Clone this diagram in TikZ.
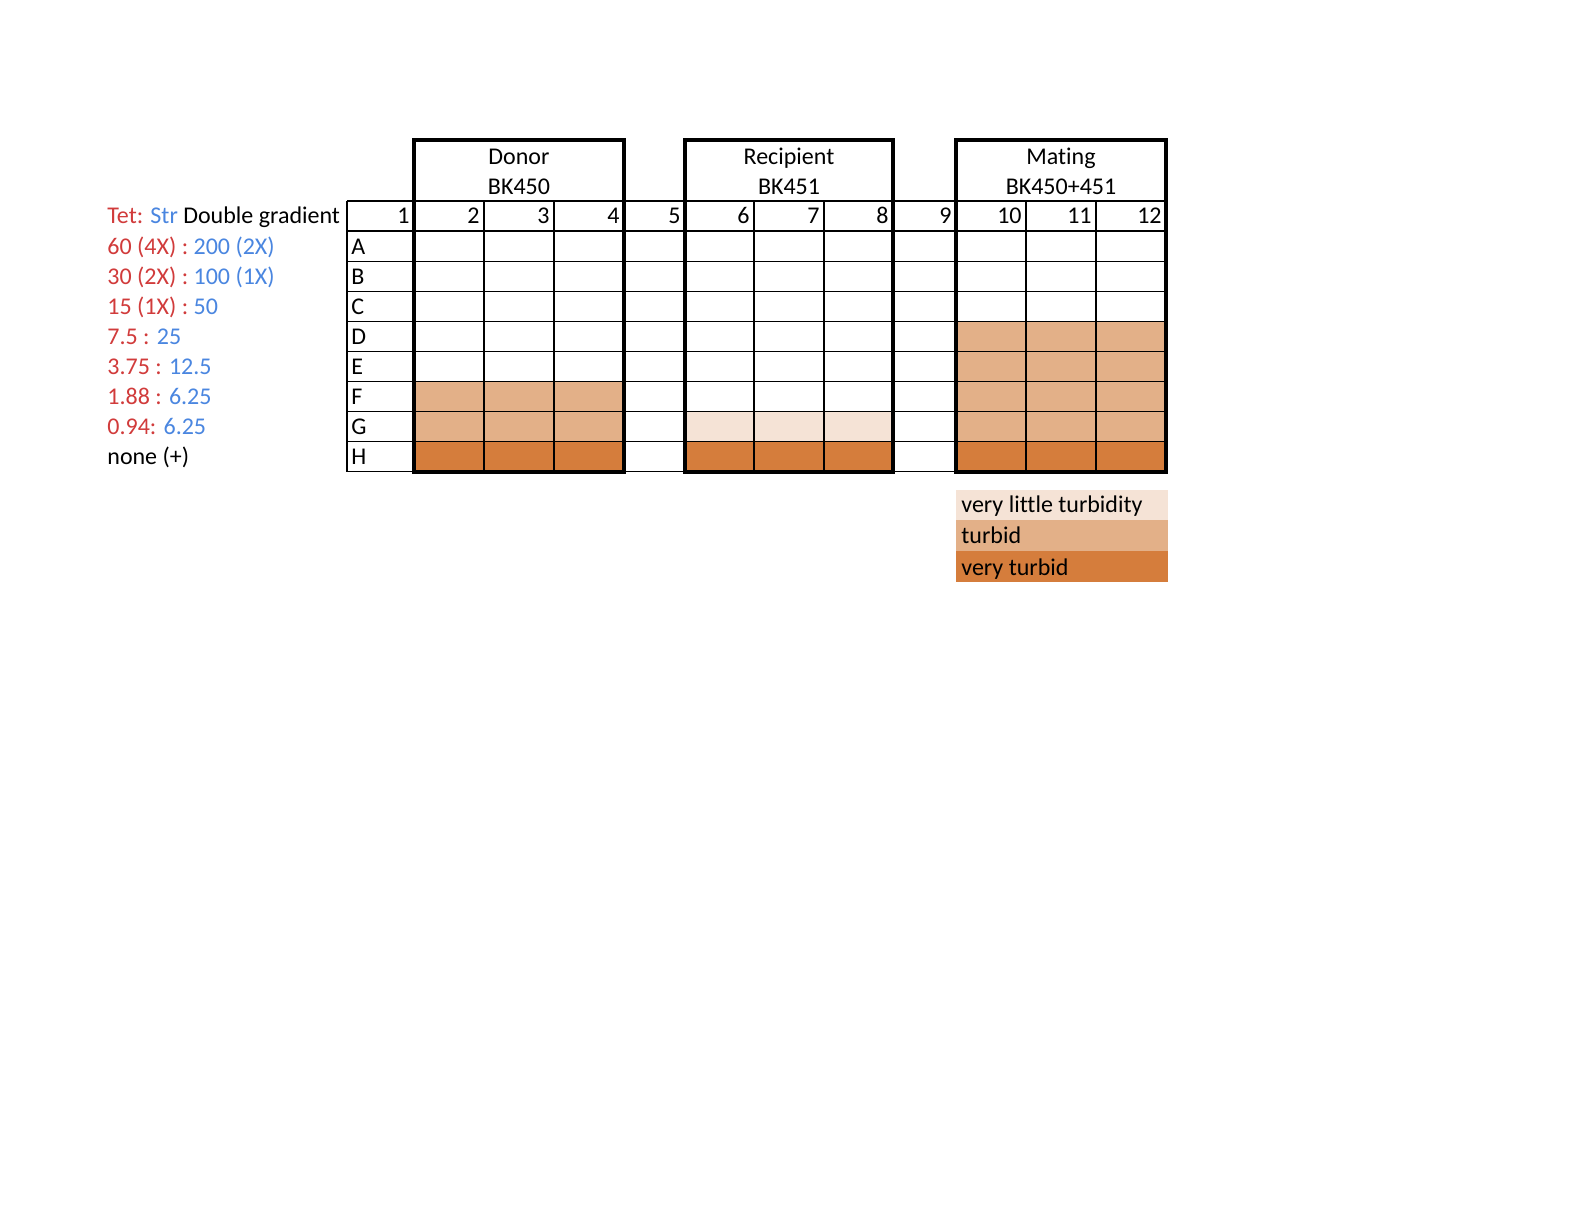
\documentclass[tikz,border=0pt]{standalone}
\usepackage{fontspec}
\setmainfont[Ligatures=NoCommon]{Carlito}
\definecolor{tred}{HTML}{D13B3B}
\definecolor{tblue}{HTML}{4A86E0}
\definecolor{lightturb}{HTML}{F5E3D6}
\definecolor{turb}{HTML}{E3B088}
\definecolor{vturb}{HTML}{D57D3C}
\begin{document}
\begin{tikzpicture}[x=0.5pt,y=-0.5pt,
  txt/.style={inner sep=0pt, font=\fontsize{12}{14}\selectfont},
  gridline/.style={line width=0.6pt},
  boxline/.style={line width=2.2pt}]
\useasboundingbox[fill=white] (0,0) rectangle (1584,1224);
% fills
\fill[turb]  (414,381.6) rectangle (624,441.8);
\fill[vturb] (414,441.8) rectangle (624,471.9);
\fill[lightturb] (685,411.7) rectangle (893,441.8);
\fill[vturb] (685,441.8) rectangle (893,471.9);
\fill[turb]  (956,321.4) rectangle (1166,441.8);
\fill[vturb] (956,441.8) rectangle (1166,471.9);
% thin grid
\foreach \k in {0,...,9}
  \draw[gridline] (347,{201+30.1*\k}) -- (1166,{201+30.1*\k});
\foreach \x in {347,414,484,554,624,685,754,824,893,956,1026,1096,1166}
  \draw[gridline] (\x,201) -- (\x,471.9);
% thick boxes
\draw[boxline] (414,140) rectangle (624,471.9);
\draw[boxline] (685,140) rectangle (893,471.9);
\draw[boxline] (956,140) rectangle (1166,471.9);
% headers
\node[txt, anchor=base] (donor) at (519,165) {Donor};
\node[txt, anchor=base] (donorid) at (519,195) {BK450};
\node[txt, anchor=base] (recip) at (789,165) {Recipient};
\node[txt, anchor=base] (recipid) at (789,195) {BK451};
\node[txt, anchor=base] (mating) at (1061,165) {Mating};
\node[txt, anchor=base] (matingid) at (1061,195) {BK450+451};
% column numbers
\foreach \n/\x in {1/414,2/484,3/554,4/624,5/685,6/754,7/824,8/893,9/956,10/1026,11/1096,12/1166}
  \node[txt, anchor=base east] (n\n) at ({\x-4},224) {\n};
% row letters
\foreach \l [count=\k] in {A,B,C,D,E,F,G,H}
  \node[txt, anchor=base west] (r\l) at (351,{194+30.1*(\k+1)}) {\l};
% left labels
\node[txt, anchor=base west] (l0) at (107,224) {\textcolor{tred}{Tet:} \textcolor{tblue}{Str} Double gradient};
\node[txt, anchor=base west] (lA) at (107,254.2) {\textcolor{tred}{60 (4X) :} \textcolor{tblue}{200 (2X)}};
\node[txt, anchor=base west] (lB) at (107,284.3) {\textcolor{tred}{30 (2X) :} \textcolor{tblue}{100 (1X)}};
\node[txt, anchor=base west] (lC) at (107,314.4) {\textcolor{tred}{15 (1X) :} \textcolor{tblue}{50}};
\node[txt, anchor=base west] (lD) at (107,344.5) {\textcolor{tred}{7.5 :} \textcolor{tblue}{25}};
\node[txt, anchor=base west] (lE) at (107,374.6) {\textcolor{tred}{3.75 :} \textcolor{tblue}{12.5}};
\node[txt, anchor=base west] (lF) at (107,404.7) {\textcolor{tred}{1.88 :} \textcolor{tblue}{6.25}};
\node[txt, anchor=base west] (lG) at (107,434.8) {\textcolor{tred}{0.94:} \textcolor{tblue}{6.25}};
\node[txt, anchor=base west] (lH) at (107,464.9) {none (+)};
% legend
\fill[lightturb] (956,490) rectangle (1168,520);
\fill[turb] (956,520) rectangle (1168,551);
\fill[vturb] (956,551) rectangle (1168,582);
\node[txt, anchor=base west] (leg1) at (961,513) {very little turbidity};
\node[txt, anchor=base west] (leg2) at (961,544) {turbid};
\node[txt, anchor=base west] (leg3) at (961,575) {very turbid};
\end{tikzpicture}
\end{document}
